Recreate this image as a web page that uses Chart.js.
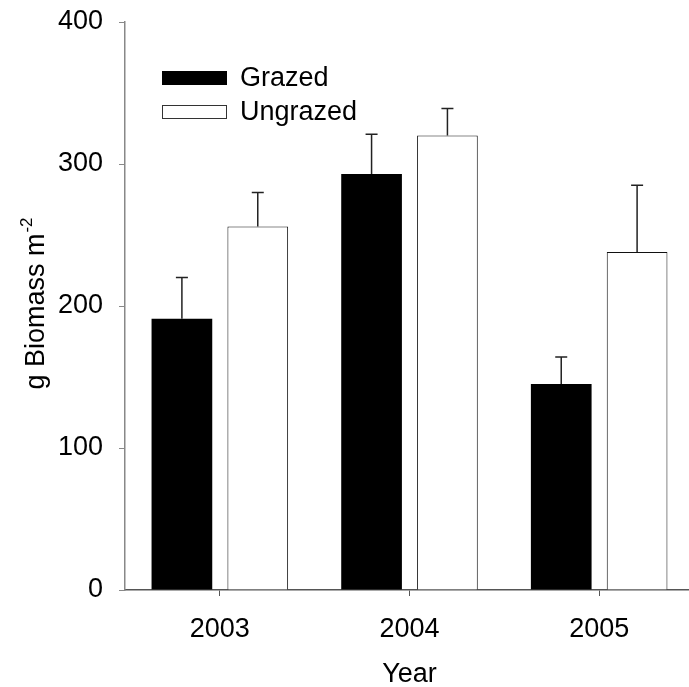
<!DOCTYPE html>
<html>
<head>
<meta charset="utf-8">
<script src="https://cdn.jsdelivr.net/npm/chart.js@4"></script>
<style>
  html, body { margin: 0; padding: 0; background: #fff; overflow: hidden; }
  #wrap { width: 694px; height: 687px; }
</style>
</head>
<body>
<div id="wrap"><canvas id="biomass-chart"></canvas></div>
<script>
// data
const years = ['2003', '2004', '2005'];
const grazed = [191, 293, 145];
const grazedErr = [29, 28, 19];
const ungrazed = [256, 320, 238];
const ungrazedErr = [24, 19, 47];
const yTicks = [0, 100, 200, 300, 400];

const FONT = "'Liberation Sans', Arial, sans-serif";

// upward-only error bars with a small cap
const errorBars = {
    id: 'errorBars',
    afterDatasetsDraw(chart) {
        const ctx = chart.ctx;
        const y = chart.scales.y;
        ctx.save();
        ctx.strokeStyle = '#222';
        ctx.lineWidth = 1.5;
        chart.data.datasets.forEach((ds, i) => {
            const meta = chart.getDatasetMeta(i);
            meta.data.forEach((bar, j) => {
                const top = y.getPixelForValue(ds.data[j]);
                const cap = y.getPixelForValue(ds.data[j] + ds.errors[j]);
                ctx.beginPath();
                ctx.moveTo(bar.x, top);
                ctx.lineTo(bar.x, cap);
                ctx.moveTo(bar.x - 6, cap);
                ctx.lineTo(bar.x + 6, cap);
                ctx.stroke();
            });
        });
        ctx.restore();
    }
};

// legend inside the plot + y title with superscript
const extras = {
    id: 'extras',
    afterDraw(chart) {
        const ctx = chart.ctx;
        ctx.save();
        ctx.font = '27px ' + FONT;
        ctx.textBaseline = 'middle';
        ctx.fillStyle = '#000';
        chart.data.datasets.forEach((ds, i) => {
            const yy = 71 + i * 34;
            if (ds.backgroundColor === '#000000') {
                ctx.fillStyle = '#000';
                ctx.fillRect(162, yy, 65, 14);
            } else {
                ctx.strokeStyle = '#333';
                ctx.lineWidth = 1;
                ctx.strokeRect(162.5, yy + 0.5, 64, 13);
            }
            ctx.fillStyle = '#000';
            ctx.fillText(ds.label, 240, yy + 8);
        });

        const main = 'g Biomass m';
        const sup = '-2';
        ctx.font = '27px ' + FONT;
        const w1 = ctx.measureText(main).width;
        ctx.font = '17px ' + FONT;
        const w2 = ctx.measureText(sup).width;
        ctx.translate(44, 304);
        ctx.rotate(-Math.PI / 2);
        ctx.textBaseline = 'alphabetic';
        ctx.textAlign = 'left';
        const start = -(w1 + w2) / 2;
        ctx.font = '27px ' + FONT;
        ctx.fillText(main, start, 0);
        ctx.font = '17px ' + FONT;
        ctx.fillText(sup, start + w1 + 1, -12);
        ctx.restore();
    }
};

const ctx = document.getElementById('biomass-chart').getContext('2d');
new Chart(ctx, {
    type: 'bar',
    data: {
        labels: years,
        datasets: [{
            label: 'Grazed',
            data: grazed,
            errors: grazedErr,
            backgroundColor: '#000000',
            borderWidth: 0
        }, {
            label: 'Ungrazed',
            data: ungrazed,
            errors: ungrazedErr,
            backgroundColor: '#ffffff',
            borderColor: '#111',
            borderWidth: 1
        }]
    },
    options: {
        responsive: true,
        maintainAspectRatio: false,
        animation: false,
        categoryPercentage: 0.8,
        barPercentage: 0.8,
        layout: { padding: { top: 22, left: 0, right: 0, bottom: 0 } },
        plugins: {
            legend: { display: false },
            tooltip: { enabled: false }
        },
        scales: {
            x: {
                offset: true,
                grid: { offset: false, drawOnChartArea: false, tickLength: 6, color: '#555' },
                border: { color: '#555', width: 1.5 },
                ticks: { color: '#000', padding: 17, font: { family: FONT, size: 27 } },
                title: { display: true, text: 'Year', color: '#000', padding: { top: 0, bottom: -4 }, font: { family: FONT, size: 27 } },
                afterFit: s => { s.height = 97; s.paddingLeft = 0; s.paddingRight = 0; }
            },
            y: {
                min: 0,
                max: 400,
                afterBuildTicks: s => { s.ticks = yTicks.map(v => ({ value: v })); },
                grid: { drawOnChartArea: false, tickLength: 6, color: '#888' },
                border: { color: '#888', width: 1.5 },
                ticks: { color: '#000', padding: 16, font: { family: FONT, size: 27 } },
                afterFit: s => { s.width = 125; s.paddingTop = 0; s.paddingBottom = 0; }
            }
        }
    },
    plugins: [errorBars, extras]
});
</script>
</body>
</html>
